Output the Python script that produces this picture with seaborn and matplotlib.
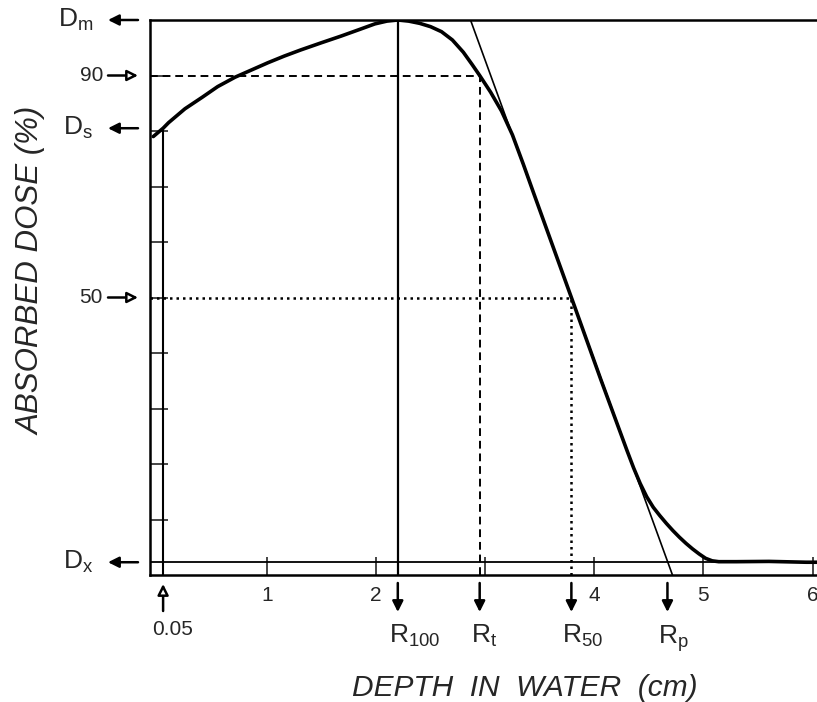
import numpy as np
import pandas as pd
import matplotlib
matplotlib.use("Agg")
import matplotlib.pyplot as plt
from matplotlib.transforms import offset_copy
import seaborn as sns

# ---- data ----
depth_cm = [-0.04, 0.05, 0.1, 0.16, 0.25, 0.41, 0.55, 0.71, 0.86, 1.01, 1.16, 1.31,
            1.5, 1.68, 1.85, 1.99, 2.1, 2.2, 2.3, 2.4, 2.5, 2.6, 2.7, 2.8, 2.88,
            2.95, 3.05, 3.15, 3.25, 3.35, 3.45, 3.79, 4.06, 4.3, 4.36, 4.42, 4.48,
            4.54, 4.6, 4.66, 4.72, 4.78, 4.84, 4.9, 4.96, 5.02, 5.08, 5.14, 5.3,
            5.6, 5.94, 6.05]
dose_pct = [79.0, 80.5, 81.5, 82.5, 84.0, 86.1, 88.0, 89.7, 91.0, 92.3, 93.5, 94.6,
            95.9, 97.1, 98.3, 99.3, 99.8, 100.0, 99.8, 99.4, 98.8, 97.9, 96.4, 94.2,
            92.0, 90.0, 87.0, 83.6, 79.3, 74.0, 68.5, 50.0, 35.2, 22.4, 19.3, 16.5,
            14.1, 12.2, 10.7, 9.3, 8.0, 6.8, 5.7, 4.7, 3.8, 3.0, 2.55, 2.4, 2.4,
            2.45, 2.3, 2.3]

D_m = 100.0
D_s = 80.5
D_x = 2.3
d90 = 90.0
d50 = 50.0
R100 = 2.2
Rt = 2.95
R50 = 3.79
Rp = 4.67
x_min_depth = 0.05
tangent_x = [2.866, 4.716]
tangent_y = [100.0, 0.0]

xtick_vals = [1, 2, 3, 4, 5, 6]
xtick_labels = ["1", "2", "", "4", "5", "6"]
ytick_vals = [10, 20, 30, 40, 50, 60, 70, 80, 90]
left_labels = [(D_m, r"$\mathrm{D}_\mathrm{m}$", "filled"),
               (d90, "90", "open"),
               (D_s, r"$\mathrm{D}_\mathrm{s}$", "filled"),
               (d50, "50", "open"),
               (D_x, r"$\mathrm{D}_\mathrm{x}$", "filled")]
r_labels = [(R100, r"$\mathrm{R}_{100}$"), (Rt, r"$\mathrm{R}_\mathrm{t}$"),
            (R50, r"$\mathrm{R}_{50}$"), (Rp, r"$\mathrm{R}_\mathrm{p}$")]

sns.set_style("white")
plt.rcParams["font.family"] = ["Liberation Sans", "DejaVu Sans"]
plt.rcParams["mathtext.fontset"] = "custom"
plt.rcParams["mathtext.rm"] = "Liberation Sans"
plt.rcParams["mathtext.it"] = "Liberation Sans:italic"

W, H = 817, 702
fig = plt.figure(figsize=(W / 100, H / 100), dpi=100)
ax = fig.add_axes([150 / W, 1 - 575 / H, (W - 150) / W, (575 - 20) / H])

df = pd.DataFrame({"depth": depth_cm, "dose": dose_pct})
sns.lineplot(data=df, x="depth", y="dose", ax=ax, color="black", lw=2.6,
             sort=False, zorder=5)
for ln in ax.lines:
    ln.set_solid_joinstyle("round")

ax.set_xlim(-0.07, 6.04)
ax.set_ylim(0, 100)

for s in ["left", "bottom", "top"]:
    ax.spines[s].set_visible(True)
    ax.spines[s].set_color("black")
    ax.spines[s].set_linewidth(1.8)
ax.spines["right"].set_visible(False)

# reference lines
ax.axhline(D_x, color="black", lw=1.3)
ax.plot([x_min_depth, x_min_depth], [0, D_s], color="black", lw=1.5)
ax.plot([R100, R100], [0, D_m], color="black", lw=1.6)
ax.plot([ax.get_xlim()[0], Rt], [d90, d90], color="black", lw=1.4, ls=(0, (4, 2.5)))
ax.plot([Rt, Rt], [0, d90], color="black", lw=1.4, ls=(0, (4, 2.5)))
ax.plot([ax.get_xlim()[0], R50], [d50, d50], color="black", lw=1.8, ls=(0, (1, 1.6)))
ax.plot([R50, R50], [0, d50], color="black", lw=1.8, ls=(0, (1, 1.6)))
ax.plot(tangent_x, tangent_y, color="black", lw=1.2)

# ticks
ax.set_xticks(xtick_vals)
ax.set_xticklabels(xtick_labels, fontsize=15)
ax.set_yticks(ytick_vals)
ax.set_yticklabels([])
ax.tick_params(axis="x", direction="in", length=13, width=1.2, pad=8, bottom=True)
ax.tick_params(axis="y", direction="in", length=13, width=1.2, left=True)
ax.set_xlabel("")
ax.set_ylabel("")

def arrowprops(kind):
    return dict(arrowstyle="-|>", lw=1.8, color="black",
                fc="white" if kind == "open" else "black",
                mutation_scale=16, shrinkA=0, shrinkB=0)

ytr = ax.get_yaxis_transform()
xtr = ax.get_xaxis_transform()
for y, lab, kind in left_labels:
    if kind == "filled":
        tip, tail = -42, -12
        txt_off, fs = -57, 19
    else:
        tip, tail = -12, -42
        txt_off, fs = -47, 15
    ax.annotate("", xy=(0, y), xycoords=offset_copy(ytr, fig=fig, x=tip, y=0, units="dots"),
                xytext=(tail - tip, 0), textcoords="offset pixels",
                arrowprops=arrowprops(kind), annotation_clip=False)
    ax.text(0, y, lab, transform=offset_copy(ytr, fig=fig, x=txt_off, y=0, units="dots"),
            ha="right", va="center", fontsize=fs)

for x, lab in r_labels:
    ax.annotate("", xy=(x, 0), xycoords=offset_copy(xtr, fig=fig, x=0, y=-37, units="dots"),
                xytext=(0, 29), textcoords="offset pixels",
                arrowprops=arrowprops("filled"), annotation_clip=False)
    ax.text(x, 0, lab, transform=offset_copy(xtr, fig=fig, x=-9, y=-48, units="dots"),
            ha="left", va="top", fontsize=19)

ax.annotate("", xy=(x_min_depth, 0), xycoords=offset_copy(xtr, fig=fig, x=0, y=-9, units="dots"),
            xytext=(0, -27), textcoords="offset pixels",
            arrowprops=arrowprops("open"), annotation_clip=False)
ax.text(x_min_depth, 0, "0.05", transform=offset_copy(xtr, fig=fig, x=9, y=-45, units="dots"),
        ha="center", va="top", fontsize=15)

fig.text(525 / W, 1 - 688 / H, "DEPTH  IN  WATER  (cm)", ha="center", va="center",
         fontsize=21.5, style="italic")
fig.text(32 / W, 1 - 271 / H, "ABSORBED DOSE (%)", ha="center", va="center",
         fontsize=22.5, style="italic", rotation=90)

fig.savefig("out.png", dpi=100, facecolor="white")
